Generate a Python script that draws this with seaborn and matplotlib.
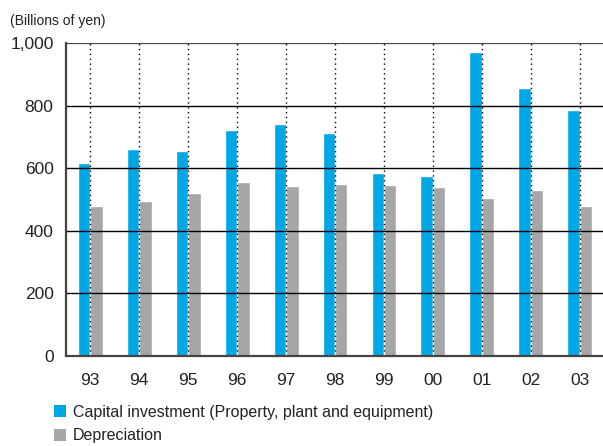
import pandas as pd
import matplotlib
matplotlib.use("Agg")
import matplotlib.pyplot as plt
import seaborn as sns
from matplotlib.patches import Patch

# Data (billions of yen)
years = ["93", "94", "95", "96", "97", "98", "99", "00", "01", "02", "03"]
capital_investment = [617, 661, 655, 722, 741, 712, 585, 575, 971, 856, 786]
depreciation = [479, 495, 521, 556, 543, 550, 546, 540, 505, 530, 479]
series_names = ["Capital investment (Property, plant and equipment)", "Depreciation"]
colors = ["#00a7e6", "#a6a6a6"]
y_ticks = [0, 200, 400, 600, 800, 1000]

df = pd.DataFrame({
    "year": years * 2,
    "value": capital_investment + depreciation,
    "series": [series_names[0]] * len(years) + [series_names[1]] * len(years),
})

sns.set_style("white")
plt.rcParams["font.family"] = ["Liberation Sans", "DejaVu Sans"]

fig = plt.figure(figsize=(6.03, 4.46), dpi=100)
ax = fig.add_axes([0.1095, 0.2018, 0.8905, 0.7018])

sns.barplot(data=df, x="year", y="value", hue="series", palette=colors,
            width=0.51, gap=0, saturation=1, ax=ax, legend=False, zorder=2)

# horizontal rules and dotted year markers drawn above the bars
for t in y_ticks[1:-1]:
    ax.axhline(t, color="black", lw=1.0, zorder=4)
ax.axhline(1000, color="#444444", lw=1.6, zorder=4)
ax.vlines(range(len(years)), 0, 1000, colors="black", linestyles=(0, (1, 2.5)),
          lw=1.0, zorder=5)

ax.set_xlim(-0.49, len(years) - 0.53)
ax.set_ylim(0, 1000)
ax.set_yticks(y_ticks)
ax.set_yticklabels([f"{t:,}" for t in y_ticks])
ax.tick_params(axis="both", length=0, labelsize=12.5, colors="#222222")
ax.tick_params(axis="y", pad=9)
ax.tick_params(axis="x", pad=12)
ax.set_xlabel("")
ax.set_ylabel("")

for side in ["top", "right"]:
    ax.spines[side].set_visible(False)
ax.spines["left"].set_color("#444444")
ax.spines["left"].set_linewidth(1.6)
ax.spines["bottom"].set_color("#444444")
ax.spines["bottom"].set_linewidth(1.6)
ax.spines["left"].set_zorder(6)
ax.spines["bottom"].set_zorder(6)

fig.text(0.016, 0.952, "(Billions of yen)", fontsize=10, color="#222222",
         ha="left", va="center")

handles = [Patch(facecolor=c, edgecolor="none") for c in colors]
fig.legend(handles, series_names, loc="upper left", bbox_to_anchor=(0.089, 0.093),
           frameon=False, fontsize=11.5, handlelength=0.75, handleheight=0.75,
           handletextpad=0.45, labelspacing=0.55, borderaxespad=0, borderpad=0,
           labelcolor="#222222")

fig.savefig("out.png", dpi=100)
